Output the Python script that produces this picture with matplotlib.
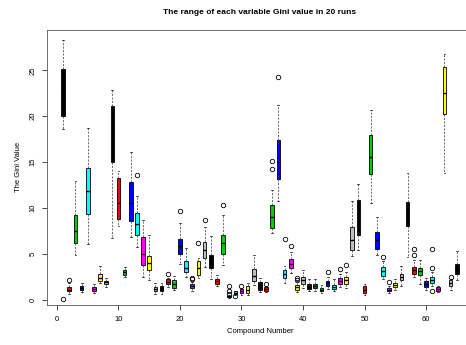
import matplotlib.pyplot as plt

plt.rcParams['font.family'] = ['Liberation Sans', 'DejaVu Sans']

compounds = list(range(1, 66))

q1 = [20.0, 0.9, 6.2, 1.1, 9.3, 1.0, 2.0, 1.67, 15.0, 8.8,
      2.7, 8.6, 7.0, 3.8, 3.2, 1.0, 0.9, 1.7, 1.27, 5.0,
      3.0, 1.27, 2.7, 4.5, 3.4, 1.74, 5.0, 0.25, 0.6, 0.72,
      0.72, 2.0, 1.1, 1.0, 7.8, 13.2, 2.35, 3.4, 1.1, 1.74,
      1.16, 1.27, 0.9, 1.5, 1.16, 1.74, 1.7, 5.4, 7.07, 0.72,
      13.7, 5.5, 2.6, 0.9, 1.38, 2.17, 8.0, 2.8, 2.7, 1.38,
      1.8, 0.98, 20.2, 1.5, 2.8]
med = [22.4, 1.1, 7.5, 1.3, 11.8, 1.2, 2.4, 1.9, 18.2, 10.5,
       3.0, 10.5, 8.2, 5.0, 4.0, 1.2, 1.2, 1.95, 1.7, 5.8,
       3.5, 1.5, 3.4, 5.4, 4.1, 2.0, 6.2, 0.35, 0.75, 0.95,
       1.1, 2.6, 1.5, 1.2, 9.0, 15.0, 2.8, 3.9, 1.35, 2.1,
       1.4, 1.5, 1.1, 1.8, 1.4, 2.0, 2.1, 6.5, 9.0, 1.1,
       15.5, 6.5, 3.1, 1.1, 1.6, 2.5, 9.2, 3.2, 3.1, 1.7,
       2.1, 1.15, 22.5, 1.8, 3.3]
q3 = [25.1, 1.4, 9.2, 1.5, 14.4, 1.4, 2.8, 2.07, 21.1, 13.3,
      3.26, 12.8, 9.5, 6.8, 4.8, 1.4, 1.45, 2.2, 2.1, 6.6,
      4.2, 1.74, 4.2, 6.3, 4.9, 2.25, 7.1, 0.45, 0.9, 1.16,
      1.45, 3.3, 1.9, 1.4, 10.3, 17.4, 3.26, 4.4, 1.6, 2.47,
      1.7, 1.7, 1.27, 2.07, 1.63, 2.35, 2.47, 7.9, 10.9, 1.45,
      18.0, 7.4, 3.55, 1.27, 1.77, 2.8, 10.6, 3.6, 3.44, 2.0,
      2.5, 1.34, 25.4, 2.1, 3.9]
whis_lo = [18.6, 0.6, 4.9, 0.8, 6.05, 0.7, 1.8, 1.4, 6.7, 8.0,
           2.5, 6.8, 5.7, 2.5, 2.1, 0.6, 0.6, 1.4, 1.1, 3.9,
           2.5, 1.0, 2.4, 3.55, 2.25, 1.5, 3.8, 0.15, 0.55, 0.5,
           0.5, 1.6, 0.8, 0.8, 7.3, 10.7, 1.8, 2.9, 0.8, 1.27,
           0.9, 1.0, 0.7, 1.2, 0.9, 1.4, 1.3, 4.8, 5.4, 0.5,
           10.5, 4.9, 2.2, 0.7, 1.1, 1.5, 4.7, 2.5, 1.74, 1.1,
           1.5, 0.8, 13.85, 1.1, 2.1]
whis_hi = [28.3, 1.8, 12.9, 1.8, 18.7, 1.7, 3.7, 2.4, 22.8, 14.0,
           3.6, 16.1, 11.3, 8.7, 7.0, 1.8, 1.8, 2.4, 2.6, 8.4,
           5.6, 1.9, 4.5, 7.9, 6.9, 2.7, 9.2, 0.5, 1.0, 1.3,
           1.8, 4.9, 2.35, 1.5, 11.9, 21.2, 3.7, 5.25, 2.0, 3.26,
           2.3, 2.2, 1.63, 2.5, 2.2, 2.8, 3.0, 10.7, 12.6, 1.7,
           20.7, 9.0, 4.2, 1.5, 2.2, 3.7, 13.85, 4.35, 4.3, 2.35,
           3.0, 1.5, 26.8, 2.3, 5.3]
outliers = {1: [0.05], 2: [2.1], 13: [13.6], 18: [2.8], 20: [9.7],
            22: [2.2, 2.4], 23: [6.2], 24: [8.7], 27: [10.3],
            28: [0.65, 0.95, 1.45], 29: [0.4], 30: [1.5], 34: [1.7],
            35: [14.2, 15.1], 36: [24.3], 37: [6.6], 38: [5.9],
            39: [2.1, 2.35], 44: [3.0], 46: [3.3], 47: [3.8], 53: [4.7],
            54: [1.9], 58: [4.9, 5.5], 61: [0.9, 3.4, 5.5], 64: [2.5]}

# R default palette, recycled over the boxes
palette = ["black", "red", "#00CD00", "blue", "cyan", "magenta", "yellow", "#BEBEBE"]

stats = []
for i, c in enumerate(compounds):
    stats.append(dict(med=med[i], q1=q1[i], q3=q3[i],
                      whislo=whis_lo[i], whishi=whis_hi[i],
                      fliers=outliers.get(c, [])))

fig = plt.figure(figsize=(4.66, 3.45), dpi=100)
ax = fig.add_axes([47.4 / 466, 40 / 345, 425.1 / 466, 275 / 345])

bp = ax.bxp(stats, positions=compounds, widths=0.6,
            patch_artist=True, manage_ticks=False, capwidths=0.3,
            boxprops=dict(edgecolor="black", linewidth=0.6),
            whiskerprops=dict(color="#333333", linewidth=0.5, linestyle=(0, (3, 2))),
            capprops=dict(color="black", linewidth=0.5),
            medianprops=dict(color="black", linewidth=1.0),
            flierprops=dict(marker="o", markersize=3.2, markerfacecolor="none",
                            markeredgecolor="black", markeredgewidth=0.6))
for i, patch in enumerate(bp['boxes']):
    patch.set_facecolor(palette[i % 8])

ax.set_xlim(-1.56, 67.56)
ax.set_ylim(-0.58, 29.39)
ax.set_xticks(range(0, 61, 10))
ax.set_yticks(range(0, 26, 5))
ax.tick_params(labelsize=5.5, length=3.6, width=0.5, pad=4)
for lab in ax.get_yticklabels():
    lab.set_rotation(90)
    lab.set_va("center")
for s in ax.spines.values():
    s.set_linewidth(0.6)
    s.set_color("#555555")

fig.text(260 / 466, 1 - 12.7 / 345, "The range of each variable Gini value in 20 runs",
         ha="center", va="center", fontsize=6.0, fontweight="bold")
fig.text(260 / 466, 1 - 331.7 / 345, "Compound Number", ha="center", va="center", fontsize=5.5)
fig.text(18 / 466, 1 - 167 / 345, "The Gini Value", ha="center", va="center",
         rotation=90, fontsize=5.5)

fig.savefig("out.png", dpi=100)
